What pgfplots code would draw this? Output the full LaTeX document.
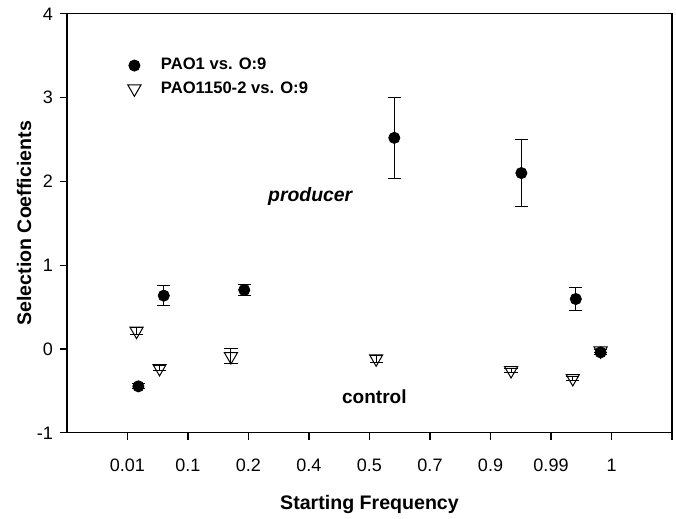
\documentclass[border=0pt]{standalone}
\usepackage{pgfplots}
\pgfplotsset{compat=1.18}
\usepackage{pgfplotstable}
\usepackage{fontspec}
\setmainfont{Liberation Sans}

% starting frequency index, selection coefficient, error
\pgfplotstableread{
x     y       e
1.18  -0.445  0.03
1.60   0.637  0.12
2.93   0.705  0.065
5.41   2.52   0.48
7.51   2.10   0.40
8.41   0.597  0.14
8.82  -0.04   0.03
}\paoone
\pgfplotstableread{
x     y       e
1.15   0.215  0.04
1.53  -0.23   0.03
2.71  -0.088  0.09
5.11  -0.115  0.04
7.34  -0.255  0.02
8.36  -0.35   0.02
8.82  -0.02   0.02
}\paomut

\begin{document}
\begin{tikzpicture}
  \begin{axis}[
      scale only axis,
      width=302.5pt,
      height=209.5pt,
      xmin=0, xmax=10,
      ymin=-1, ymax=4,
      xtick={1,...,10},
      xticklabels={0.01,0.1,0.2,0.4,0.5,0.7,0.9,0.99,1,},
      ytick={-1,0,1,2,3,4},
      xtick pos=bottom,
      ytick pos=left,
      tick align=outside,
      major tick length=3.5pt,
      axis line style={line width=0.6pt},
      every tick/.style={black, line width=0.6pt},
      ticklabel style={font=\fontsize{9}{10}\selectfont},
      xticklabel style={yshift=-6pt},
      /pgf/number format/assume math mode=true,
      xlabel={Starting Frequency},
      ylabel={Selection Coefficients},
      label style={font=\bfseries\fontsize{9.8}{11}\selectfont},
      xlabel style={at={(axis description cs:0.5,-0.172)}, anchor=center},
      ylabel style={at={(axis description cs:-0.071,0.5)}, anchor=center},
      legend style={draw=none, fill=none, at={(rel axis cs:0.09,0.914)},
        anchor=north west, font=\bfseries\fontsize{8.3}{10.5}\selectfont,
        row sep=0.3pt,
        /tikz/every odd column/.append style={column sep=8pt}},
      legend cell align=left,
      error bars/error bar style={black, line width=0.5pt},
      error bars/error mark options={rotate=90, mark size=3.3pt, black, line width=0.5pt},
    ]
    \addplot[only marks, mark=*, mark size=2.8pt, black,
      error bars/.cd, y dir=both, y explicit]
      table[x=x, y=y, y error=e] {\paoone};
    \addlegendentry{PAO1 vs. O:9}
    \addplot[only marks, mark=triangle, mark size=3.8pt, black,
      mark options={rotate=180, line width=0.5pt},
      error bars/.cd, y dir=both, y explicit]
      table[x=x, y=y, y error=e] {\paomut};
    \addlegendentry{PAO1150-2 vs. O:9}

    \node[font=\bfseries\itshape\fontsize{9.7}{11}\selectfont] at (axis cs:4.02,1.815) {producer};
    \node[font=\bfseries\fontsize{9.5}{11}\selectfont] at (axis cs:5.08,-0.565) {control};

    \coordinate (bl) at (rel axis cs:-0.1107,-0.205);
    \coordinate (tr) at (rel axis cs:1.0066,1.033);
  \end{axis}
  \pgfresetboundingbox
  \path[use as bounding box] (bl) rectangle (tr);
\end{tikzpicture}
\end{document}
